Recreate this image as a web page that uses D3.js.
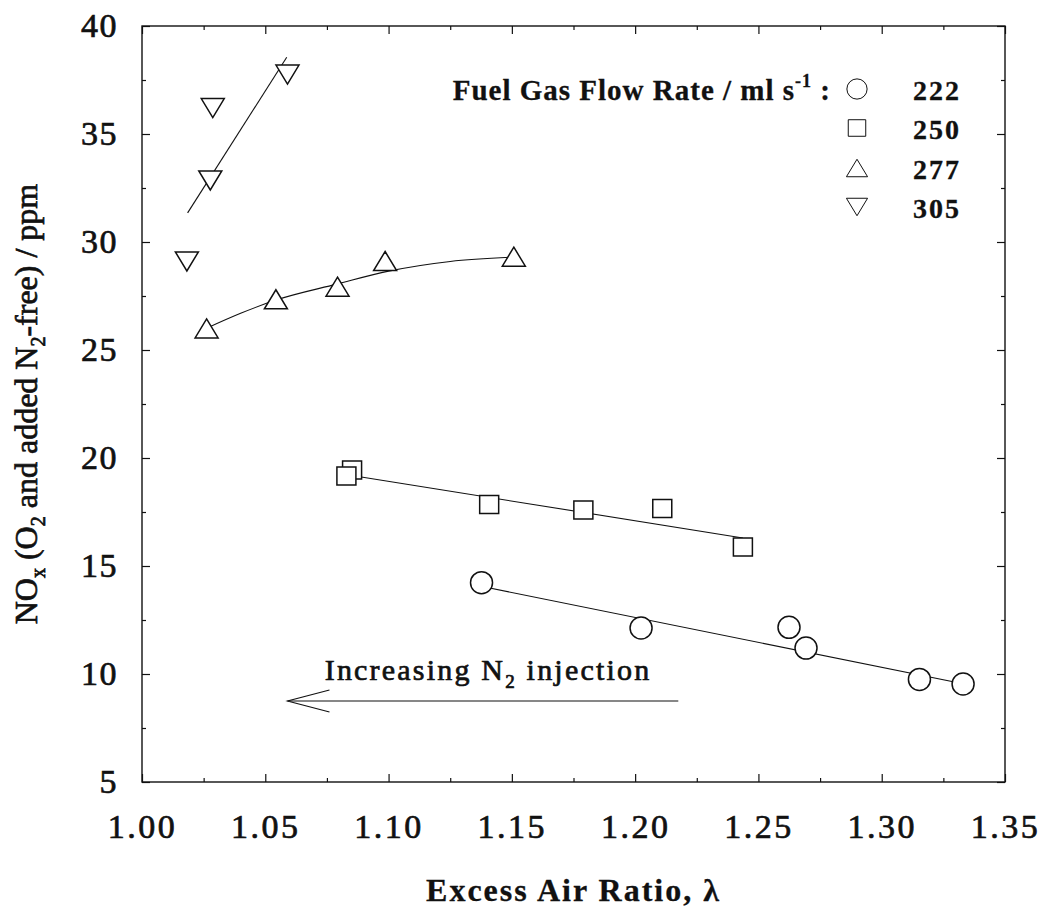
<!DOCTYPE html>
<html>
<head>
<meta charset="utf-8">
<script src="https://cdn.jsdelivr.net/npm/d3@7/dist/d3.min.js"></script>
<style>
  html, body { margin: 0; padding: 0; background: #fff; }
  svg { display: block; }
  text { font-family: "Liberation Serif", "Times New Roman", serif; fill: #111; }
  .heavy { stroke: #111; stroke-width: 0.7px; }
  .heavyb { stroke: #111; stroke-width: 0.3px; }
</style>
</head>
<body>
<svg id="chart" width="1043" height="909"></svg>
<script>
// ---------- data ----------
const flowRates = ["222", "250", "277", "305"];

const lambda222 = [1.1377, 1.2024, 1.2624, 1.2693, 1.3153, 1.3330];
const nox222    = [14.23, 12.13, 12.16, 11.20, 9.75, 9.54];

const lambda250 = [1.0852, 1.0829, 1.1408, 1.1790, 1.2110, 1.2437];
const nox250    = [19.45, 19.17, 17.85, 17.59, 17.66, 15.88];

const lambda277 = [1.0262, 1.0543, 1.0793, 1.0986, 1.1508];
const nox277    = [26.0, 27.35, 27.93, 29.12, 29.32];

const lambda305 = [1.0182, 1.0277, 1.0287, 1.0590];
const nox305    = [29.1, 32.85, 36.2, 37.75];

// fitted lines drawn in the figure
const fitLambda222 = [1.138, 1.333];
const fitNox222    = [14.05, 9.55];
const fitLambda250 = [1.0845, 1.2437];
const fitNox250    = [19.2, 16.3];
const fitLambda277 = [1.026, 1.040, 1.054, 1.079, 1.100, 1.125, 1.151];
const fitNox277    = [26.0, 26.7, 27.3, 28.05, 28.65, 29.1, 29.3];
const fitLambda305 = [1.0185, 1.0587];
const fitNox305    = [31.35, 38.55];

// axis ticks
const xMajorTicks = [1.00, 1.05, 1.10, 1.15, 1.20, 1.25, 1.30, 1.35];
const xMinorTicks = [1.025, 1.075, 1.125, 1.175, 1.225, 1.275, 1.325];
const yMajorTicks = [5, 10, 15, 20, 25, 30, 35, 40];
const yMinorTicks = [7.5, 12.5, 17.5, 22.5, 27.5, 32.5, 37.5];

// annotation (arrow) in data coordinates
const arrowLambda = [1.2175, 1.059];
const arrowNox = 8.75;
const annotLambda = 1.0741;
const annotNox = 9.72;

// ---------- layout ----------
const svg = d3.select("#chart");
const L = 142, R = 1005, T = 26, B = 782;
const x = d3.scaleLinear().domain([1.00, 1.35]).range([L, R]);
const y = d3.scaleLinear().domain([5, 40]).range([B, T]);

const fmtX = d3.format(".2f");

function styleAxis(g) {
  g.select(".domain").remove();
  g.selectAll(".tick line").attr("stroke", "#111").attr("stroke-width", 1.2);
}

// bottom
svg.append("g").attr("transform", `translate(0,${B})`)
  .call(d3.axisBottom(x).tickValues(xMajorTicks).tickFormat(fmtX).tickSize(-8).tickSizeOuter(0).tickPadding(32))
  .call(styleAxis)
  .call(g => g.selectAll("text").attr("font-size", 34).attr("letter-spacing", "2.5px").attr("class", "heavy")
      .style("font-family", '"Liberation Serif", serif').attr("fill", "#111"));
svg.append("g").attr("transform", `translate(0,${B})`)
  .call(d3.axisBottom(x).tickValues(xMinorTicks).tickFormat("").tickSize(-4).tickSizeOuter(0))
  .call(styleAxis);
// top
svg.append("g").attr("transform", `translate(0,${T})`)
  .call(d3.axisTop(x).tickValues(xMajorTicks).tickFormat("").tickSize(-8).tickSizeOuter(0))
  .call(styleAxis);
svg.append("g").attr("transform", `translate(0,${T})`)
  .call(d3.axisTop(x).tickValues(xMinorTicks).tickFormat("").tickSize(-4).tickSizeOuter(0))
  .call(styleAxis);
// left
svg.append("g").attr("transform", `translate(${L},0)`)
  .call(d3.axisLeft(y).tickValues(yMajorTicks).tickFormat(d3.format("d")).tickSize(-8).tickSizeOuter(0).tickPadding(24))
  .call(styleAxis)
  .call(g => g.selectAll("text").attr("font-size", 34).attr("letter-spacing", "1.5px").attr("class", "heavy")
      .style("font-family", '"Liberation Serif", serif').attr("fill", "#111"));
svg.append("g").attr("transform", `translate(${L},0)`)
  .call(d3.axisLeft(y).tickValues(yMinorTicks).tickFormat("").tickSize(-4).tickSizeOuter(0))
  .call(styleAxis);
// right
svg.append("g").attr("transform", `translate(${R},0)`)
  .call(d3.axisRight(y).tickValues(yMajorTicks).tickFormat("").tickSize(-8).tickSizeOuter(0))
  .call(styleAxis);
svg.append("g").attr("transform", `translate(${R},0)`)
  .call(d3.axisRight(y).tickValues(yMinorTicks).tickFormat("").tickSize(-4).tickSizeOuter(0))
  .call(styleAxis);

// frame
svg.append("rect").attr("x", L).attr("y", T).attr("width", R - L).attr("height", B - T)
  .attr("fill", "none").attr("stroke", "#111").attr("stroke-width", 1.4);

// ---------- fitted lines ----------
function pairs(a, b) { return a.map((v, i) => [v, b[i]]); }
const line = d3.line().x(d => x(d[0])).y(d => y(d[1]));
const curve = d3.line().x(d => x(d[0])).y(d => y(d[1])).curve(d3.curveMonotoneX);
const fits = [
  [pairs(fitLambda222, fitNox222), line],
  [pairs(fitLambda250, fitNox250), line],
  [pairs(fitLambda277, fitNox277), curve],
  [pairs(fitLambda305, fitNox305), line]
];
fits.forEach(([pts, gen]) => {
  svg.append("path").attr("d", gen(pts)).attr("fill", "none")
    .attr("stroke", "#111").attr("stroke-width", 1.1);
});

// ---------- markers ----------
function markerPath(kind, s) {
  if (kind === "circle") {
    const r = 11 * s;
    return `M${-r},0A${r},${r} 0 1,0 ${r},0A${r},${r} 0 1,0 ${-r},0Z`;
  }
  if (kind === "square") {
    const w = 9.5 * s, h = 9 * s;
    return `M${-w},${-h}H${w}V${h}H${-w}Z`;
  }
  if (kind === "up") {
    const w = 11.5 * s, h = 9.5 * s;
    return `M0,${-h}L${w},${h}L${-w},${h}Z`;
  }
  const w = 11.5 * s, h = 9.5 * s;
  return `M${-w},${-h}H${w}L0,${h}Z`;
}
const series = [
  { kind: "circle", lam: lambda222, nox: nox222 },
  { kind: "square", lam: lambda250, nox: nox250 },
  { kind: "up",     lam: lambda277, nox: nox277 },
  { kind: "down",   lam: lambda305, nox: nox305 }
];
series.forEach(s => {
  svg.append("g").selectAll("path").data(pairs(s.lam, s.nox)).join("path")
    .attr("transform", d => `translate(${x(d[0])},${y(d[1])})`)
    .attr("d", markerPath(s.kind, 1))
    .attr("fill", "#fff").attr("stroke", "#111").attr("stroke-width", 1.5);
});

// ---------- legend ----------
const legendRowsY = [89, 128, 168, 207];
const legendSymX = 857, legendNumX = 913;
const leg = svg.append("g");
const lt = leg.append("text").attr("x", 831).attr("y", 100).attr("text-anchor", "end")
  .attr("font-size", 29).attr("font-weight", "bold").attr("letter-spacing", "1px").attr("class", "heavyb");
lt.append("tspan").text("Fuel Gas Flow Rate / ml s");
lt.append("tspan").attr("font-size", 18).attr("dy", -13).text("-1");
lt.append("tspan").attr("dy", 13).text(" :");
series.forEach((s, i) => {
  leg.append("path").attr("transform", `translate(${legendSymX},${legendRowsY[i]})`)
    .attr("d", markerPath(s.kind, 0.92)).attr("fill", "#fff").attr("stroke", "#111").attr("stroke-width", 1);
  leg.append("text").attr("x", legendNumX).attr("y", legendRowsY[i] + 11)
    .attr("font-size", 28).attr("font-weight", "bold").attr("letter-spacing", "2px").attr("class", "heavyb")
    .text(flowRates[i]);
});

// ---------- annotation ----------
const ax0 = x(arrowLambda[0]), ax1 = x(arrowLambda[1]), ay = y(arrowNox);
svg.append("line").attr("x1", ax0).attr("x2", ax1).attr("y1", ay).attr("y2", ay)
  .attr("stroke", "#111").attr("stroke-width", 1.1);
svg.append("path").attr("d", `M${ax1 + 42},${ay - 11}L${ax1},${ay}L${ax1 + 42},${ay + 11}`)
  .attr("fill", "none").attr("stroke", "#111").attr("stroke-width", 1.1);
const at = svg.append("text").attr("x", x(annotLambda)).attr("y", y(annotNox))
  .attr("font-size", 30).attr("letter-spacing", "2.2px").attr("class", "heavy");
at.append("tspan").text("Increasing N");
at.append("tspan").attr("font-size", 19).attr("dy", 8).text("2");
at.append("tspan").attr("dy", -8).text(" injection");

// ---------- axis titles ----------
svg.append("text").attr("x", (L + R) / 2).attr("y", 901).attr("text-anchor", "middle")
  .attr("font-size", 32).attr("font-weight", "bold").attr("letter-spacing", "2px").attr("class", "heavyb")
  .text("Excess Air Ratio, λ");

const yt = svg.append("text").attr("transform", `translate(37,${(T + B) / 2}) rotate(-90)`)
  .attr("text-anchor", "middle").attr("font-size", 32).attr("class", "heavy");
yt.append("tspan").text("NO");
yt.append("tspan").attr("font-size", 20).attr("dy", 8).text("x");
yt.append("tspan").attr("dy", -8).text(" (O");
yt.append("tspan").attr("font-size", 20).attr("dy", 8).text("2");
yt.append("tspan").attr("dy", -8).text(" and added N");
yt.append("tspan").attr("font-size", 20).attr("dy", 8).text("2");
yt.append("tspan").attr("dy", -8).text("-free) / ppm");
</script>
</body>
</html>
